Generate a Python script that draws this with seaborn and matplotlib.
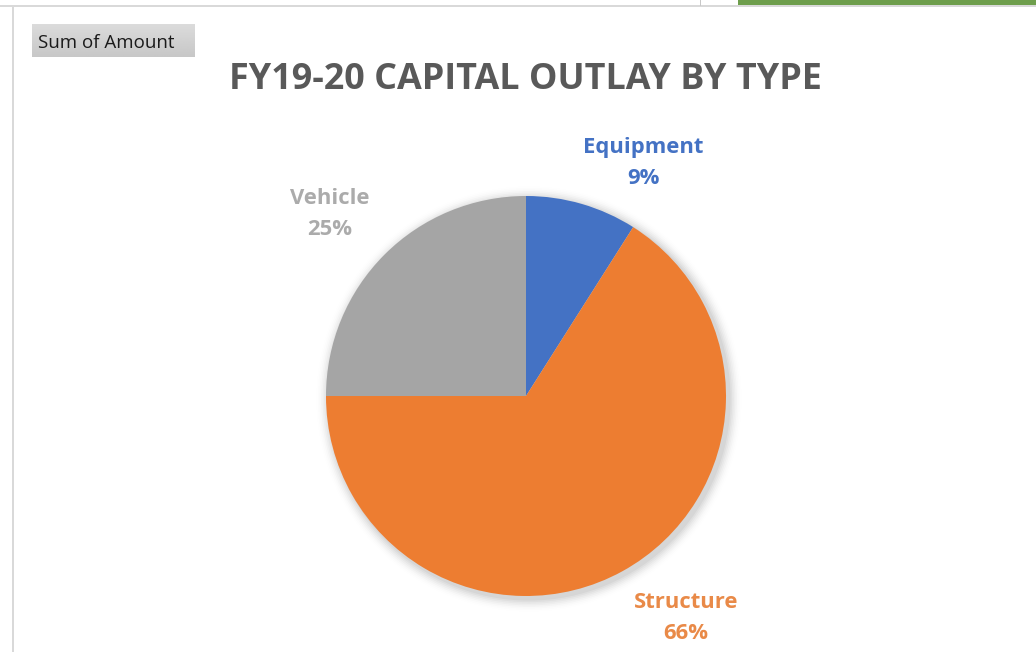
import matplotlib
matplotlib.use("Agg")
import matplotlib.pyplot as plt
from matplotlib.patches import Rectangle, Circle
import numpy as np
import seaborn as sns

# Capital outlay shares by type (percent of total)
categories = ["Equipment", "Structure", "Vehicle"]
shares = [9, 66, 25]
title = "FY19-20 CAPITAL OUTLAY BY TYPE"
field_button = "Sum of Amount"

sns.set_theme(style="white")
plt.rcParams["font.family"] = ["Open Sans", "DejaVu Sans"]

palette = ["#4472C4", "#ED7D31", "#A5A5A5"]
label_colors = ["#4472C4", "#E98A48", "#ABABAB"]

fig = plt.figure(figsize=(10.36, 6.52), dpi=100)
fig.patch.set_facecolor("white")

# Worksheet frame: top and left borders, green ribbon strip
fig.add_artist(Rectangle((12 / 1036, 0), 1.5 / 1036, 1 - 6 / 652,
                         transform=fig.transFigure, color="#D9D9D9", lw=0))
fig.add_artist(Rectangle((0, 1 - 7 / 652), 1, 1.5 / 652,
                         transform=fig.transFigure, color="#D9D9D9", lw=0))
fig.add_artist(Rectangle((700 / 1036, 1 - 6 / 652), 1 / 1036, 6 / 652,
                         transform=fig.transFigure, color="#C8C8C8", lw=0))
fig.add_artist(Rectangle((738 / 1036, 1 - 5 / 652), 298 / 1036, 5 / 652,
                         transform=fig.transFigure, color="#6E9E4C", lw=0))

# Pivot field button
bx0, by0, bw, bh = 32 / 1036, 1 - 57 / 652, 163 / 1036, 33 / 652
grad = np.linspace(0.86, 0.78, 50).reshape(-1, 1)
bax = fig.add_axes([bx0, by0, bw, bh])
bax.imshow(np.repeat(grad, 2, axis=1), cmap="gray", vmin=0, vmax=1,
           aspect="auto", extent=[0, 1, 0, 1])
bax.set_axis_off()
fig.text(bx0 + 6 / 1036, by0 + bh / 2 - 2 / 652, field_button, ha="left",
         va="center", fontsize=13.5, color="#1A1A1A")

# Title
fig.text(525 / 1036, 1 - 80 / 652, title, ha="center", va="center",
         fontsize=25.8, fontweight="bold", color="#595959")

# Pie axes: unit-radius pie centred in a 600x600 px box
ax = fig.add_axes([226 / 1036, -44 / 652, 600 / 1036, 600 / 652])
ax.set_aspect("equal")
ax.set_axis_off()

# soft drop shadow
for i, a in enumerate(np.linspace(0.035, 0.005, 8)):
    ax.add_patch(Circle((0.015, -0.015), 1.0 + 0.008 * (i + 1),
                        color="black", alpha=a, lw=0, zorder=0))

wedges, _ = ax.pie(shares, colors=palette, startangle=90, counterclock=False,
                   radius=1.0, wedgeprops=dict(linewidth=0))
for w in wedges:
    w.set_zorder(2)

ax.set_xlim(-1.5, 1.5)
ax.set_ylim(-1.5, 1.5)

label_pos = {"Equipment": (0.585, 1.165), "Structure": (0.80, -1.11),
             "Vehicle": (-0.98, 0.91)}
total = sum(shares)
for cat, val, col in zip(categories, shares, label_colors):
    x, y = label_pos[cat]
    ax.text(x, y, f"{cat}\n{round(100 * val / total)}%", ha="center",
            va="center", fontsize=15.8, fontweight="bold", color=col,
            linespacing=1.6, zorder=3)

fig.savefig("out.png", dpi=100, facecolor="white")
